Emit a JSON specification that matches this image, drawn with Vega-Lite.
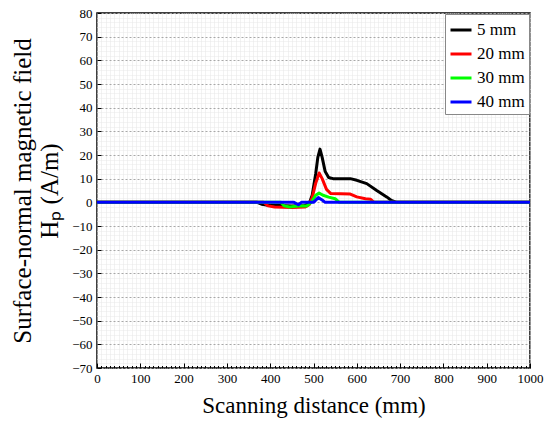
{
  "$schema": "https://vega.github.io/schema/vega-lite/v6.json",
  "width": 433,
  "height": 355,
  "autosize": "none",
  "padding": {"left": 97, "top": 13, "right": 20, "bottom": 59},
  "background": "white",
  "config": {
    "font": "Times New Roman, serif",
    "view": {"stroke": "black", "strokeWidth": 1.5},
    "axis": {
      "labelFont": "Times New Roman, serif",
      "labelFontSize": 13,
      "labelColor": "black",
      "titleFont": "Times New Roman, serif",
      "titleFontWeight": "normal",
      "titleColor": "black",
      "titleFontSize": 23,
      "domain": false,
      "tickColor": "black",
      "tickWidth": 1
    },
    "legend": {
      "labelFont": "Times New Roman, serif"
    }
  },
  "data": {
    "values": [
      {"series": "5 mm", "x": 0, "h": 0},
      {"series": "5 mm", "x": 370, "h": 0},
      {"series": "5 mm", "x": 380, "h": -0.8},
      {"series": "5 mm", "x": 395, "h": -1.2},
      {"series": "5 mm", "x": 420, "h": -1.3},
      {"series": "5 mm", "x": 450, "h": -1.5},
      {"series": "5 mm", "x": 480, "h": -1.3},
      {"series": "5 mm", "x": 490, "h": -0.5},
      {"series": "5 mm", "x": 497, "h": 3},
      {"series": "5 mm", "x": 505, "h": 12},
      {"series": "5 mm", "x": 510, "h": 19},
      {"series": "5 mm", "x": 515, "h": 22.5},
      {"series": "5 mm", "x": 520, "h": 19},
      {"series": "5 mm", "x": 527, "h": 13},
      {"series": "5 mm", "x": 535, "h": 10.5},
      {"series": "5 mm", "x": 545, "h": 10},
      {"series": "5 mm", "x": 585, "h": 10},
      {"series": "5 mm", "x": 600, "h": 9.3},
      {"series": "5 mm", "x": 623, "h": 7.9},
      {"series": "5 mm", "x": 646, "h": 5},
      {"series": "5 mm", "x": 669, "h": 2.3},
      {"series": "5 mm", "x": 680, "h": 0.8},
      {"series": "5 mm", "x": 692, "h": 0},
      {"series": "5 mm", "x": 1000, "h": 0},
      {"series": "20 mm", "x": 0, "h": 0},
      {"series": "20 mm", "x": 385, "h": 0},
      {"series": "20 mm", "x": 395, "h": -1.5},
      {"series": "20 mm", "x": 410, "h": -2},
      {"series": "20 mm", "x": 450, "h": -2.2},
      {"series": "20 mm", "x": 480, "h": -2},
      {"series": "20 mm", "x": 490, "h": -1},
      {"series": "20 mm", "x": 497, "h": 2},
      {"series": "20 mm", "x": 505, "h": 8},
      {"series": "20 mm", "x": 513, "h": 12.4},
      {"series": "20 mm", "x": 520, "h": 10},
      {"series": "20 mm", "x": 530, "h": 5.5},
      {"series": "20 mm", "x": 540, "h": 3.7},
      {"series": "20 mm", "x": 585, "h": 3.5},
      {"series": "20 mm", "x": 600, "h": 2.3},
      {"series": "20 mm", "x": 620, "h": 1.5},
      {"series": "20 mm", "x": 632, "h": 1.3},
      {"series": "20 mm", "x": 640, "h": 0},
      {"series": "20 mm", "x": 1000, "h": 0},
      {"series": "30 mm", "x": 0, "h": 0},
      {"series": "30 mm", "x": 425, "h": 0},
      {"series": "30 mm", "x": 432, "h": -1.5},
      {"series": "30 mm", "x": 445, "h": -2},
      {"series": "30 mm", "x": 455, "h": -1.8},
      {"series": "30 mm", "x": 470, "h": -1.5},
      {"series": "30 mm", "x": 485, "h": -1.5},
      {"series": "30 mm", "x": 495, "h": 0},
      {"series": "30 mm", "x": 505, "h": 3},
      {"series": "30 mm", "x": 513, "h": 3.9},
      {"series": "30 mm", "x": 522, "h": 3},
      {"series": "30 mm", "x": 535, "h": 2.2},
      {"series": "30 mm", "x": 550, "h": 1.5},
      {"series": "30 mm", "x": 560, "h": 0},
      {"series": "30 mm", "x": 1000, "h": 0},
      {"series": "40 mm", "x": 0, "h": 0},
      {"series": "40 mm", "x": 455, "h": 0},
      {"series": "40 mm", "x": 465, "h": -1},
      {"series": "40 mm", "x": 472, "h": 0},
      {"series": "40 mm", "x": 500, "h": 0},
      {"series": "40 mm", "x": 511, "h": 2},
      {"series": "40 mm", "x": 520, "h": 1},
      {"series": "40 mm", "x": 527, "h": 0},
      {"series": "40 mm", "x": 1000, "h": 0}
    ]
  },
  "mark": {"type": "line", "strokeWidth": 3, "strokeJoin": "round", "clip": true},
  "encoding": {
    "x": {
      "field": "x",
      "type": "quantitative",
      "scale": {"domain": [0, 1000], "nice": false},
      "axis": {
        "title": "Scanning distance (mm)",
        "tickCount": 100,
        "format": "d",
        "labelExpr": "datum.value % 100 === 0 ? datum.label : ''",
        "labelFlush": false,
        "labelPadding": 9,
        "titlePadding": 9,
        "grid": true,
        "gridColor": "#e4e4e4",
        "gridDash": [1, 1],
        "tickSize": {"condition": {"test": "datum.value % 100 === 0", "value": -5}, "value": -2.5}
      }
    },
    "y": {
      "field": "h",
      "type": "quantitative",
      "scale": {"domain": [-70, 80], "nice": false},
      "axis": {
        "title": ["Surface-normal magnetic field", "Hₚ (A/m)"],
        "titleFontSize": 25,
        "tickCount": 75,
        "labelExpr": "datum.value % 10 === 0 ? datum.label : ''",
        "labelFlush": false,
        "labelPadding": 9,
        "titlePadding": 9,
        "grid": true,
        "gridColor": {"condition": {"test": "datum.value % 10 === 0", "value": "#a8a8a8"}, "value": "#e8e8e8"},
        "gridDash": {"condition": {"test": "datum.value % 10 === 0", "value": [2, 2]}, "value": [1, 1]},
        "tickSize": {"condition": {"test": "datum.value % 10 === 0", "value": -4}, "value": 0}
      }
    },
    "color": {
      "field": "series",
      "type": "nominal",
      "scale": {"domain": ["5 mm", "20 mm", "30 mm", "40 mm"], "range": ["#000000", "#ff0000", "#00ff00", "#0000ff"]},
      "legend": {
        "title": null,
        "orient": "none",
        "legendX": 348,
        "legendY": 1,
        "direction": "vertical",
        "fillColor": "white",
        "strokeColor": "#888888",
        "padding": 4,
        "symbolType": "stroke",
        "symbolStrokeWidth": 3,
        "symbolSize": 441,
        "labelFontSize": 17,
        "labelColor": "black",
        "labelExpr": "datum.label === '5 mm' ? '\u20075 mm' : datum.label",
        "rowPadding": 4
      }
    }
  }
}
